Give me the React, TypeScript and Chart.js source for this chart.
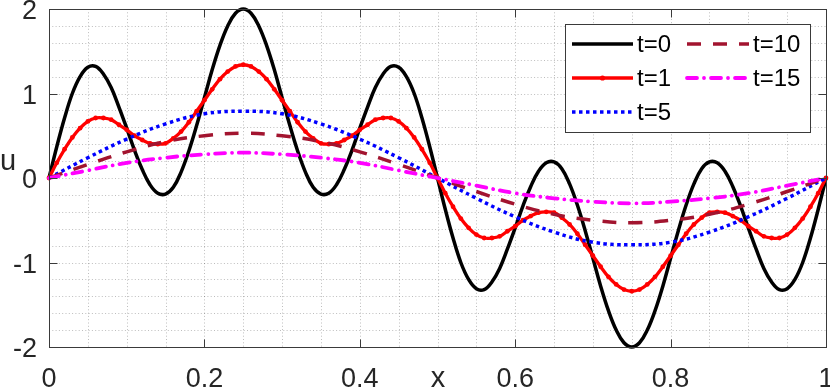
import React, { useEffect, useRef } from "react";
import { Chart, registerables } from "chart.js";

Chart.register(...registerables);

// ---------- data ----------
const xFine = [0, 0.01, 0.02, 0.03, 0.04, 0.05, 0.06, 0.07, 0.08, 0.09, 0.1, 0.11, 0.12, 0.13, 0.14, 0.15, 0.16, 0.17, 0.18, 0.19, 0.2, 0.21, 0.22, 0.23, 0.24, 0.25, 0.26, 0.27, 0.28, 0.29, 0.3, 0.31, 0.32, 0.33, 0.34, 0.35, 0.36, 0.37, 0.38, 0.39, 0.4, 0.41, 0.42, 0.43, 0.44, 0.45, 0.46, 0.47, 0.48, 0.49, 0.5, 0.51, 0.52, 0.53, 0.54, 0.55, 0.56, 0.57, 0.58, 0.59, 0.6, 0.61, 0.62, 0.63, 0.64, 0.65, 0.66, 0.67, 0.68, 0.69, 0.7, 0.71, 0.72, 0.73, 0.74, 0.75, 0.76, 0.77, 0.78, 0.79, 0.8, 0.81, 0.82, 0.83, 0.84, 0.85, 0.86, 0.87, 0.88, 0.89, 0.9, 0.91, 0.92, 0.93, 0.94, 0.95, 0.96, 0.97, 0.98, 0.99, 1];

const uT0 = [0, 0.37, 0.71, 1.0, 1.2, 1.31, 1.32, 1.23, 1.07, 0.84, 0.59, 0.33, 0.1, -0.08, -0.18, -0.19, -0.11, 0.07, 0.32, 0.62, 0.95, 1.28, 1.57, 1.8, 1.95, 2.0, 1.95, 1.8, 1.57, 1.28, 0.95, 0.62, 0.32, 0.07, -0.11, -0.19, -0.18, -0.08, 0.1, 0.33, 0.59, 0.84, 1.07, 1.23, 1.32, 1.31, 1.2, 1.0, 0.71, 0.37, 0,
  -0.37, -0.71, -1.0, -1.2, -1.31, -1.32, -1.23, -1.07, -0.84, -0.59, -0.33, -0.1, 0.08, 0.18, 0.19, 0.11, -0.07, -0.32, -0.62, -0.95, -1.28, -1.57, -1.8, -1.95, -2.0, -1.95, -1.8, -1.57, -1.28, -0.95, -0.62, -0.32, -0.07, 0.11, 0.19, 0.18, 0.08, -0.1, -0.33, -0.59, -0.84, -1.07, -1.23, -1.32, -1.31, -1.2, -1.0, -0.71, -0.37, 0];

const uT1 = [0, 0.18, 0.34, 0.48, 0.59, 0.67, 0.71, 0.71, 0.69, 0.63, 0.57, 0.5, 0.45, 0.41, 0.4, 0.41, 0.47, 0.55, 0.66, 0.79, 0.92, 1.05, 1.17, 1.26, 1.32, 1.34, 1.32, 1.26, 1.17, 1.05, 0.92, 0.79, 0.66, 0.55, 0.47, 0.41, 0.4, 0.41, 0.45, 0.5, 0.57, 0.63, 0.69, 0.71, 0.71, 0.67, 0.59, 0.48, 0.34, 0.18, 0,
  -0.18, -0.34, -0.48, -0.59, -0.67, -0.71, -0.71, -0.69, -0.63, -0.57, -0.5, -0.45, -0.41, -0.4, -0.41, -0.47, -0.55, -0.66, -0.79, -0.92, -1.05, -1.17, -1.26, -1.32, -1.34, -1.32, -1.26, -1.17, -1.05, -0.92, -0.79, -0.66, -0.55, -0.47, -0.41, -0.4, -0.41, -0.45, -0.5, -0.57, -0.63, -0.69, -0.71, -0.71, -0.67, -0.59, -0.48, -0.34, -0.18, 0];

const xCoarse = [0, 0.05, 0.1, 0.15, 0.2, 0.25, 0.3, 0.35, 0.4, 0.45, 0.5, 0.55, 0.6, 0.65, 0.7, 0.75, 0.8, 0.85, 0.9, 0.95, 1];
const uT5 = [0, 0.24, 0.46, 0.64, 0.76, 0.79, 0.76, 0.64, 0.46, 0.24, 0, -0.24, -0.46, -0.64, -0.76, -0.79, -0.76, -0.64, -0.46, -0.24, 0];
const uT10 = [0, 0.16, 0.31, 0.43, 0.5, 0.53, 0.5, 0.43, 0.31, 0.16, 0, -0.16, -0.31, -0.43, -0.5, -0.53, -0.5, -0.43, -0.31, -0.16, 0];
const uT15 = [0, 0.09, 0.18, 0.24, 0.28, 0.3, 0.28, 0.24, 0.18, 0.09, 0, -0.09, -0.18, -0.24, -0.28, -0.3, -0.28, -0.24, -0.18, -0.09, 0];

const seriesLabels = ["t=0", "t=1", "t=5", "t=10", "t=15"];

const xTicks = [0, 0.2, 0.4, 0.6, 0.8, 1];
const xTickLabels = ["0", "0.2", "0.4", "0.6", "0.8", "1"];
const yTicks = [-2, -1, 0, 1, 2];
const yTickLabels = ["-2", "-1", "0", "1", "2"];
const xGridLines = [0.05, 0.1, 0.15, 0.2, 0.25, 0.3, 0.35, 0.4, 0.45, 0.5, 0.55, 0.6, 0.65, 0.7, 0.75, 0.8, 0.85, 0.9, 0.95];
const yGridLines = [-1.8, -1.6, -1.4, -1.2, -1, -0.8, -0.6, -0.4, -0.2, 0, 0.2, 0.4, 0.6, 0.8, 1, 1.2, 1.4, 1.6, 1.8];

const FONT = "'Liberation Sans', Arial, Helvetica, sans-serif";
const AXIS_COLOR = "#3a3a3a";

const toPoints = (xs: number[], ys: number[]) => xs.map((x, i) => ({ x, y: ys[i] }));

type Style = { color: string; dash: number[]; cap: CanvasLineCap; width: number; marker: boolean };
const styles: Style[] = [
  { color: "#000000", dash: [], cap: "butt", width: 3.5, marker: false },
  { color: "#ff0000", dash: [], cap: "butt", width: 3.3, marker: true },
  { color: "#0000ff", dash: [3.5, 3.5], cap: "butt", width: 3.5, marker: false },
  { color: "#a2142f", dash: [14, 12], cap: "butt", width: 3.5, marker: false },
  { color: "#ff00ff", dash: [10, 7, 0.01, 7], cap: "round", width: 3.8, marker: false },
];

const axesPlugin = {
  id: "matlabAxes",
  beforeDatasetsDraw(chart: any) {
    const { ctx, chartArea: a, scales } = chart;
    const xs = scales.x, ys = scales.y;
    ctx.save();
    ctx.strokeStyle = "rgba(0,0,0,0.26)";
    ctx.lineWidth = 1;
    ctx.setLineDash([1, 2.3]);
    xGridLines.forEach((v) => {
      const px = Math.round(xs.getPixelForValue(v)) + 0.5;
      ctx.beginPath();
      ctx.moveTo(px, a.top);
      ctx.lineTo(px, a.bottom);
      ctx.stroke();
    });
    yGridLines.forEach((v) => {
      const py = Math.round(ys.getPixelForValue(v)) + 0.5;
      ctx.beginPath();
      ctx.moveTo(a.left, py);
      ctx.lineTo(a.right, py);
      ctx.stroke();
    });
    ctx.restore();
  },
  afterDatasetsDraw(chart: any) {
    const { ctx, chartArea: a, scales } = chart;
    const xs = scales.x, ys = scales.y;
    ctx.save();
    ctx.setLineDash([]);
    ctx.strokeStyle = AXIS_COLOR;
    ctx.lineWidth = 1;
    const L = Math.round(a.left) + 0.5, R = Math.round(a.right) + 0.5;
    const T = Math.round(a.top) + 0.5, B = Math.round(a.bottom) + 0.5;
    ctx.strokeRect(L, T, R - L, B - T);
    const tl = 8;
    ctx.beginPath();
    xTicks.forEach((v) => {
      const px = Math.round(xs.getPixelForValue(v)) + 0.5;
      ctx.moveTo(px, B); ctx.lineTo(px, B - tl);
      ctx.moveTo(px, T); ctx.lineTo(px, T + tl);
    });
    yTicks.forEach((v) => {
      const py = Math.round(ys.getPixelForValue(v)) + 0.5;
      ctx.moveTo(L, py); ctx.lineTo(L + tl, py);
      ctx.moveTo(R, py); ctx.lineTo(R - tl, py);
    });
    ctx.stroke();
    ctx.fillStyle = "#262626";
    ctx.font = `27px ${FONT}`;
    ctx.textBaseline = "alphabetic";
    ctx.textAlign = "center";
    xTicks.forEach((v, i) => {
      ctx.fillText(xTickLabels[i], xs.getPixelForValue(v), 387);
    });
    ctx.textAlign = "right";
    yTicks.forEach((v, i) => {
      ctx.fillText(yTickLabels[i], 37, ys.getPixelForValue(v) + 10);
    });
    ctx.font = `29px ${FONT}`;
    ctx.textAlign = "center";
    ctx.fillText("x", 438, 387);
    ctx.textAlign = "left";
    ctx.fillText("u", 0, 170);
    ctx.restore();
  },
  afterDraw(chart: any) {
    const { ctx } = chart;
    ctx.save();
    const bx = 565.5, by = 24.5, bw = 245, bh = 108;
    ctx.fillStyle = "#ffffff";
    ctx.fillRect(bx, by, bw, bh);
    ctx.strokeStyle = AXIS_COLOR;
    ctx.lineWidth = 1;
    ctx.setLineDash([]);
    ctx.strokeRect(bx, by, bw, bh);
    const entries = [
      { i: 0, x0: 572, x1: 633, tx: 637, y: 44 },
      { i: 1, x0: 572, x1: 633, tx: 637, y: 78 },
      { i: 2, x0: 572, x1: 633, tx: 637, y: 112 },
      { i: 3, x0: 687, x1: 749, tx: 753, y: 44 },
      { i: 4, x0: 687, x1: 749, tx: 753, y: 78 },
    ];
    entries.forEach((e) => {
      const s = styles[e.i];
      ctx.strokeStyle = s.color;
      ctx.lineWidth = s.width;
      ctx.lineCap = s.cap;
      ctx.setLineDash(s.dash);
      ctx.beginPath();
      ctx.moveTo(e.x0, e.y);
      ctx.lineTo(e.x1, e.y);
      ctx.stroke();
      if (s.marker) {
        ctx.fillStyle = s.color;
        ctx.beginPath();
        ctx.arc((e.x0 + e.x1) / 2, e.y, 2.6, 0, Math.PI * 2);
        ctx.fill();
      }
      ctx.setLineDash([]);
      ctx.fillStyle = "#000000";
      ctx.font = `24px ${FONT}`;
      ctx.textAlign = "left";
      ctx.textBaseline = "middle";
      ctx.fillText(seriesLabels[e.i], e.tx, e.y + 1);
    });
    ctx.restore();
  },
};

export default function App() {
  const ref = useRef<HTMLCanvasElement>(null);
  useEffect(() => {
    document.body.style.margin = "0";
    const canvas = ref.current;
    if (!canvas) return;
    const seriesX = [xFine, xFine, xCoarse, xCoarse, xCoarse];
    const seriesY = [uT0, uT1, uT5, uT10, uT15];
    const datasets = seriesLabels.map((label, i) => {
      const s = styles[i];
      return {
        label,
        data: toPoints(seriesX[i], seriesY[i]),
        borderColor: s.color,
        backgroundColor: s.color,
        borderWidth: s.width,
        borderDash: s.dash,
        borderCapStyle: s.cap,
        borderJoinStyle: "round" as CanvasLineJoin,
        pointRadius: s.marker ? 2.4 : 0,
        pointBorderWidth: 0,
        pointBackgroundColor: s.color,
        tension: 0.4,
        fill: false,
        clip: 6,
        order: 5 - i,
      };
    });
    const chart = new Chart(canvas, {
      type: "line",
      data: { datasets: datasets as any },
      options: {
        responsive: false,
        animation: false,
        events: [],
        layout: { padding: { left: 49, right: 3, top: 9, bottom: 42 } },
        plugins: { legend: { display: false }, tooltip: { enabled: false } },
        scales: {
          x: { type: "linear", min: 0, max: 1, display: false },
          y: { type: "linear", min: -2, max: 2, display: false },
        },
      },
      plugins: [axesPlugin],
    });
    return () => chart.destroy();
  }, []);
  return <canvas ref={ref} width={830} height={389} style={{ display: "block" }} />;
}
